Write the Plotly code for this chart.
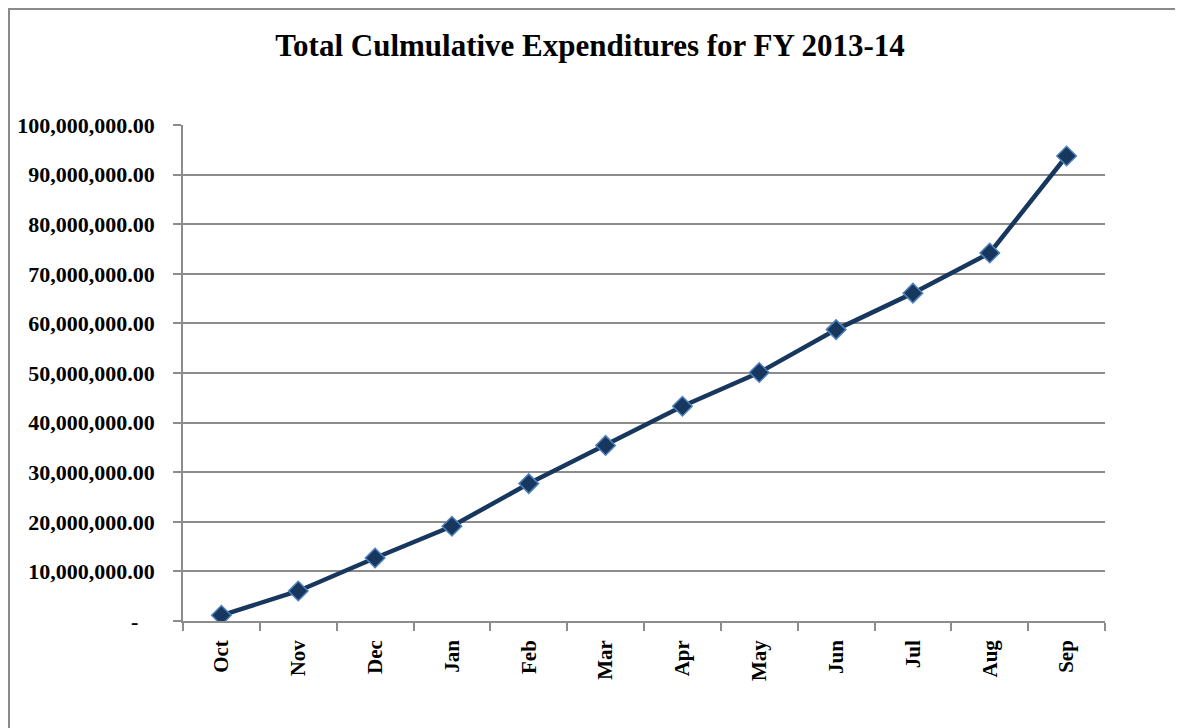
import plotly.graph_objects as go

months = ["Oct", "Nov", "Dec", "Jan", "Feb", "Mar", "Apr", "May", "Jun", "Jul", "Aug", "Sep"]
cumulative = [1150000, 6050000, 12700000, 19100000, 27700000, 35400000, 43300000,
              50100000, 58750000, 66100000, 74200000, 93750000]
y_ticks = [0, 10000000, 20000000, 30000000, 40000000, 50000000, 60000000,
           70000000, 80000000, 90000000, 100000000]
y_ticktext = ["-\u00a0\u00a0\u00a0"] + [f"{v:,.2f}" for v in y_ticks[1:]]

FONT = "Liberation Serif"
GRID = "#8c8c8c"

# the page body adds an 8px offset, so the figure is laid out in shifted coordinates
L, T, PW, PH = 175, 113, 922, 496

fig = go.Figure()
fig.add_trace(go.Scatter(
    x=months, y=cumulative, mode="lines+markers",
    line=dict(color="#17375E", width=4.5),
    marker=dict(symbol="diamond", size=15, color="#17375E",
                line=dict(color="#4F81BD", width=1.5)),
    showlegend=False,
))

fig.update_layout(
    width=1183, height=728,
    margin=dict(l=L, r=1183 - L - PW, t=T + 4, b=728 - T - 4 - PH, autoexpand=False),
    paper_bgcolor="white", plot_bgcolor="white",
    title=dict(text="<b>Total Culmulative Expenditures for FY 2013-14</b>",
               x=582 / 1183, xanchor="center", y=1 - 37 / 728, yanchor="middle",
               font=dict(family=FONT, size=31, color="black")),
    font=dict(family=FONT, color="black"),
)
fig.update_xaxes(
    type="category", range=[-0.5, len(months) - 0.5],
    tickson="boundaries", ticks="outside", ticklen=8,
    tickcolor=GRID, tickwidth=1.5,
    showline=True, linecolor=GRID, linewidth=1.5,
    showgrid=False, tickangle=-90, automargin=False,
    tickfont=dict(family=FONT, size=21, color="black", weight="bold"),
    ticklabelstandoff=9,
)
fig.update_yaxes(
    range=[0, 100000000], tickvals=y_ticks, ticktext=y_ticktext,
    ticks="outside", ticklen=8, tickcolor=GRID, tickwidth=1.5,
    showline=True, linecolor=GRID, linewidth=1.5,
    showgrid=True, gridcolor=GRID, gridwidth=1.5,
    zeroline=False, automargin=False,
    tickfont=dict(family=FONT, size=22, color="black", weight="bold"),
    ticklabelstandoff=14,
)
# outer chart border
top = T + 4
fig.add_shape(type="rect", xref="paper", yref="paper",
              x0=(1 - L) / PW, x1=(1172 - L) / PW,
              y0=(top + PH - 745) / PH, y1=(top + PH - 1) / PH,
              line=dict(color="#8a8a8a", width=2), layer="below")

fig.write_html("out.html")
